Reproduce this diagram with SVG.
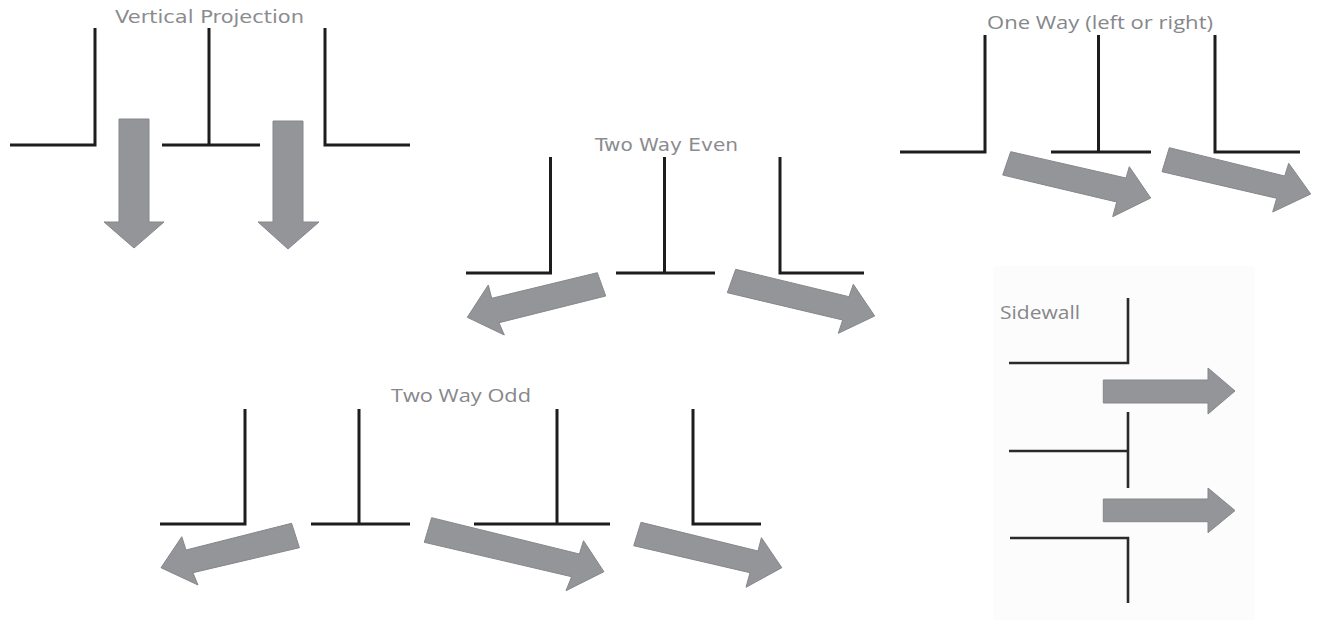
<svg xmlns="http://www.w3.org/2000/svg" width="1320" height="620" viewBox="0 0 1320 620">
<style>
.w{fill:none;stroke:#1d1d1f;stroke-width:3;stroke-linejoin:miter}
.s{stroke-width:2.6;stroke:#2a2a2c}
.a{fill:#939598;stroke:#85878a;stroke-width:1}
.t{font-family:"DejaVu Sans",sans-serif;font-size:18px;fill:#8b8c8f}
.u{font-family:"Open Sans",sans-serif;font-size:18.500px;fill:#86878a}
</style>
<rect width="1320" height="620" fill="#ffffff"/>
<rect id="sidewall-panel" x="993" y="266" width="262" height="354" fill="#fcfcfc"/>

<g id="vertical-projection">
<text class="t" x="115" y="22.500" textLength="189" lengthAdjust="spacingAndGlyphs">Vertical Projection</text>
<path class="w" d="M10 145H95V28"/>
<path class="w" d="M162 145H260M209 145V28"/>
<path class="w" d="M325 28V145H410"/>
</g>

<g id="one-way">
<text class="u" x="987" y="29" textLength="226" lengthAdjust="spacingAndGlyphs">One Way (left or right)</text>
<path class="w" d="M900 152H985V35"/>
<path class="w" d="M1051 152H1151M1098.500 152V35"/>
<path class="w" d="M1215 35V152H1300"/>
</g>

<g id="two-way-even">
<text class="t" x="595" y="151" textLength="143" lengthAdjust="spacingAndGlyphs">Two Way Even</text>
<path class="w" d="M466 273H550.500V157"/>
<path class="w" d="M616 273H715M664.500 273V157"/>
<path class="w" d="M780 157V273H864"/>
</g>

<g id="two-way-odd">
<text class="u" x="391" y="402" textLength="140" lengthAdjust="spacingAndGlyphs">Two Way Odd</text>
<path class="w" d="M160 524H245V409"/>
<path class="w" d="M311 524H410M359 524V409"/>
<path class="w" d="M474 524H610M557 524V409"/>
<path class="w" d="M693 409V524H761"/>
</g>

<g id="sidewall">
<text class="u" x="1000" y="319" textLength="80" lengthAdjust="spacingAndGlyphs">Sidewall</text>
<path class="w s" d="M1009 363H1128V298"/>
<path class="w s" d="M1009 451H1128M1128 412V488"/>
<path class="w s" d="M1010 538H1128V603"/>
</g>

<g id="connectors">
<polygon class="a" points="119,119 149,119 149,222 164,222 134,248 104,222 119,222"/>
<polygon class="a" points="273,121 303,121 303,222 319,222 288,249 258,222 273,222"/>
<polygon class="a" points="1010.700,151.700 1126,178 1129.300,166.700 1150.700,198 1112.700,216.700 1116.700,202 1002.700,175"/>
<polygon class="a" points="1169.300,147.700 1284.700,176 1288.700,163.300 1310.700,194 1272.700,212 1276.700,198.300 1162,171.700"/>
<polygon class="a" points="597.300,272.700 605.700,296 499,322.700 504.300,335 467.300,317.300 488.300,285 491.700,298.300"/>
<polygon class="a" points="735.700,269.300 849,296.700 853.300,284.300 874.700,316 838.300,333.300 842.700,320 727.300,292.700"/>
<polygon class="a" points="291.600,523.300 299.400,547.700 192.900,572.700 198,585 161,567.700 181.800,536.700 186,550"/>
<polygon class="a" points="431.600,517.700 579.400,554 583.500,540.700 603.900,571.700 566,590.700 571.600,576.700 424.300,542.300"/>
<polygon class="a" points="641,522.300 758,551 761.400,537.700 781.800,567.700 746,587.300 750,572.700 633.700,545.700"/>
<polygon class="a" points="1103.300,380 1208,380 1208,368 1235,391 1208,414 1208,403 1103.300,403"/>
<polygon class="a" points="1103.300,499 1208,499 1208,488 1235,510.500 1208,532.700 1208,521.700 1103.300,521.700"/>
</g>
</svg>
